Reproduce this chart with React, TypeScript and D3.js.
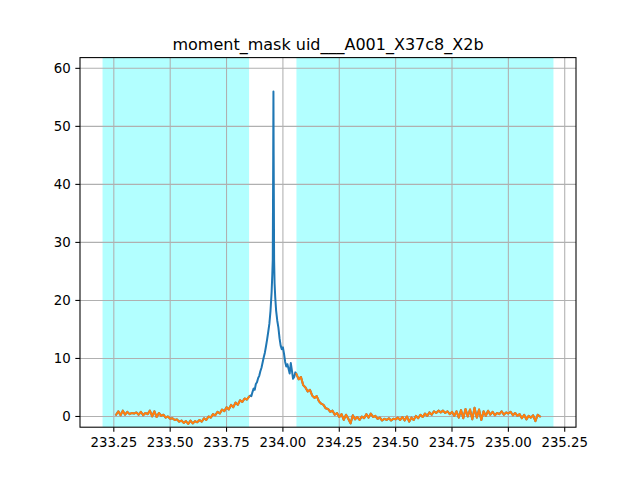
import React from "react";
import * as d3 from "d3";

const TITLE = "moment_mask uid___A001_X37c8_X2b";
const X_TICKS = [233.25, 233.5, 233.75, 234.0, 234.25, 234.5, 234.75, 235.0, 235.25];
const Y_TICKS = [0, 10, 20, 30, 40, 50, 60];
const BANDS: [number, number][] = [
  [233.2, 233.85],
  [234.06, 235.2],
];

// left masked segment: channels from 233.26, step 0.01 GHz
const LEFT_START = 233.26;
const RIGHT_START = 234.06;
const CHAN_STEP = 0.01;
const leftVals = [
  0.3, 0.9, 0.2, 1.0, 0.3, 0.8, 0.4, 0.6, 0.5, 0.7,
  0.3, 0.8, 0.2, 0.6, 0.4, 1.0, 0.0, 0.9, -0.1, 0.6,
  0.1, 0.3, -0.2, 0.0, -0.4, -0.3, -0.6, -0.5, -0.9, -0.7,
  -1.1, -0.8, -1.3, -0.7, -1.2, -0.8, -1.0, -0.6, -0.9, -0.3,
  -0.6, 0.0, -0.2, 0.4, 0.2, 0.8, 0.5, 1.2, 0.9, 1.6,
  1.2, 2.0, 1.6, 2.4, 2.0, 2.8, 2.5, 3.1, 2.9, 3.4,
];
// line region (unmasked)
const peakFreq = [
  233.855, 233.86, 233.865, 233.87, 233.875, 233.88, 233.885, 233.89, 233.895, 233.9,
  233.905, 233.91, 233.915, 233.92, 233.925, 233.93, 233.935, 233.94, 233.945, 233.95,
  233.953, 233.955, 233.957, 233.958, 233.959, 233.961, 233.963, 233.966, 233.97, 233.975,
  233.98, 233.985, 233.99, 233.995, 234.0, 234.005, 234.01, 234.015, 234.02, 234.025,
  234.03, 234.035, 234.04, 234.045, 234.05, 234.055,
];
const peakVals = [
  3.6, 3.5, 4.2, 4.8, 4.6, 5.6, 5.9, 6.6, 7.0, 7.8,
  8.4, 9.3, 10.2, 11.0, 12.1, 13.3, 14.6, 16.0, 18.2, 21.5,
  24.5, 27, 45, 56.0, 45, 27, 23, 20.5, 18.2, 16.5,
  15.3, 13.5, 12.2, 11.6, 11.9, 10.8, 9.4, 8.6, 9.0, 8.2,
  7.4, 9.2, 7.9, 6.5, 6.8, 7.6,
];
const rightVals = [
  7.3, 6.4, 6.8, 5.4, 5.0, 4.3, 4.6, 3.6, 3.2, 3.5,
  2.6, 2.2, 2.0, 1.4, 1.3, 0.8, 1.0, 0.3, 0.6, -0.1,
  0.4, -0.6, 0.3, -0.4, -1.2, 0.2, -0.5, -0.1, -0.6, 0.0,
  -0.3, 0.4, -0.2, 0.5, -0.1, 0.1, -0.4, -0.2, -0.7, -0.4,
  -0.6, -0.3, -0.7, -0.4, -0.5, -0.2, -0.6, -0.1, -0.7, 0.0,
  -0.9, -0.2, -0.6, 0.1, -0.3, 0.3, -0.1, 0.5, 0.1, 0.7,
  0.3, 0.9, 0.6, 1.0, 0.7, 1.0, 0.6, 0.9, 0.4, 0.8,
  0.1, 0.9, -0.2, 1.1, -0.3, 1.3, 0.0, 1.2, -0.5, 1.5,
  -0.2, 1.2, -0.6, 0.9, 0.1, 1.0, 0.3, 0.8, 0.2, 0.6,
  0.4, 0.9, 0.3, 0.7, 0.5, 0.8, 0.2, 0.6, 0.1, 0.4,
  -0.3, 0.3, -0.5, 0.1, -0.2, 0.2, -0.8, 0.3, 0.0,
];

type P = [number, number];

export default function App() {
  const W = 640, H = 480;
  const L = 80, R = 576, T = 57.6, B = 427.2;
  const x = d3.scaleLinear().domain([233.1, 235.3]).range([L, R]);
  const y = d3.scaleLinear().domain([-1.85, 61.85]).range([B, T]);

  const left: P[] = leftVals.map((v, i) => [LEFT_START + i * CHAN_STEP, v]);
  const right: P[] = rightVals.map((v, i) => [RIGHT_START + i * CHAN_STEP, v]);
  const peak: P[] = peakFreq.map((f, i) => [f, peakVals[i]]);
  const full: P[] = [...left, ...peak, ...right];

  const line = d3
    .line<P>()
    .x((d) => x(d[0]))
    .y((d) => y(d[1]));

  const font = "DejaVu Sans, sans-serif";
  const fmtX = (v: number) => v.toFixed(2);

  return (
    <svg
      width={W}
      height={H}
      style={{ position: "absolute", left: 0, top: 0, background: "#fff" }}
    >
      <rect x={0} y={0} width={W} height={H} fill="#fff" />
      <defs>
        <clipPath id="plotclip">
          <rect x={L} y={T} width={R - L} height={B - T} />
        </clipPath>
      </defs>
      <g clipPath="url(#plotclip)">
        {BANDS.map(([a, b], i) => (
          <rect key={i} x={x(a)} y={T} width={x(b) - x(a)} height={B - T} fill="#00ffff" fillOpacity={0.3} />
        ))}
        {X_TICKS.map((t) => (
          <line key={"gx" + t} x1={x(t)} x2={x(t)} y1={T} y2={B} stroke="#b0b0b0" strokeWidth={0.8 * 1.333} />
        ))}
        {Y_TICKS.map((t) => (
          <line key={"gy" + t} x1={L} x2={R} y1={y(t)} y2={y(t)} stroke="#b0b0b0" strokeWidth={0.8 * 1.333} />
        ))}
        <path d={line(full) ?? ""} fill="none" stroke="#1f77b4" strokeWidth={2} strokeLinejoin="round" strokeLinecap="square" />
        <path d={line(left) ?? ""} fill="none" stroke="#ff7f0e" strokeWidth={2} strokeLinejoin="round" strokeLinecap="square" />
        <path d={line(right) ?? ""} fill="none" stroke="#ff7f0e" strokeWidth={2} strokeLinejoin="round" strokeLinecap="square" />
      </g>
      <rect x={L} y={T} width={R - L} height={B - T} fill="none" stroke="#000" strokeWidth={0.8 * 1.333} />
      {X_TICKS.map((t) => (
        <g key={"tx" + t}>
          <line x1={x(t)} x2={x(t)} y1={B} y2={B + 4.67} stroke="#000" strokeWidth={1.07} />
          <text x={x(t)} y={B + 9.33 + 10.6} textAnchor="middle" fontFamily={font} fontSize={13.33} fill="#000">
            {fmtX(t)}
          </text>
        </g>
      ))}
      {Y_TICKS.map((t) => (
        <g key={"ty" + t}>
          <line x1={L - 4.67} x2={L} y1={y(t)} y2={y(t)} stroke="#000" strokeWidth={1.07} />
          <text x={L - 9.33} y={y(t)} dy="0.36em" textAnchor="end" fontFamily={font} fontSize={13.33} fill="#000">
            {t}
          </text>
        </g>
      ))}
      <text x={(L + R) / 2} y={T - 8} textAnchor="middle" fontFamily={font} fontSize={16} fill="#000">
        {TITLE}
      </text>
    </svg>
  );
}
